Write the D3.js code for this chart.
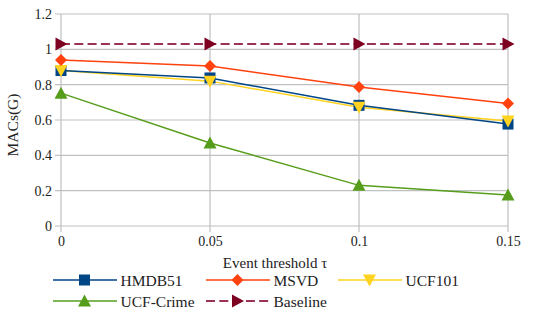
<!DOCTYPE html>
<html><head><meta charset="utf-8">
<script src="https://cdn.jsdelivr.net/npm/d3@7"></script>
<style>body{margin:0;background:#fff}svg{display:block;font-family:"Liberation Serif","DejaVu Serif",serif}</style>
</head><body><svg id="c" width="548" height="313"></svg>
<script>
const xValues = [0, 0.05, 0.1, 0.15];
const xTickLabels = ["0", "0.05", "0.1", "0.15"];
const yTicks = [0, 0.2, 0.4, 0.6, 0.8, 1, 1.2];
const yTickLabels = ["0", "0.2", "0.4", "0.6", "0.8", "1", "1.2"];
const seriesNames = ["HMDB51", "MSVD", "UCF101", "UCF-Crime", "Baseline"];
const hmdb51 = [0.88, 0.838, 0.683, 0.577];
const msvd = [0.94, 0.905, 0.787, 0.693];
const ucf101 = [0.88, 0.82, 0.672, 0.595];
const ucfCrime = [0.752, 0.47, 0.23, 0.175];
const baseline = [1.03, 1.03, 1.03, 1.03];

const series = [
  {name: seriesNames[0], values: hmdb51, color: "#004586", line: "#004586", marker: "square"},
  {name: seriesNames[1], values: msvd, color: "#ff420e", line: "#ff420e", marker: "diamond"},
  {name: seriesNames[2], values: ucf101, color: "#ffd320", line: "#ffd320", marker: "down"},
  {name: seriesNames[3], values: ucfCrime, color: "#579d1c", line: "#579d1c", marker: "up"},
  {name: seriesNames[4], values: baseline, color: "#7e0021", line: "#9a3353", marker: "right", dash: "9,4.3"}
];

const svg = d3.select("#c");
const L = 61, R = 508, T = 14, B = 226;
const x = d3.scaleLinear().domain([0, 0.15]).range([L, R]);
const y = d3.scaleLinear().domain([0, 1.2]).range([B, T]);
const txt = "#222";

// grid
svg.append("g").selectAll("line").data(yTicks).join("line")
  .attr("x1", L - 6).attr("x2", R).attr("y1", d => y(d)).attr("y2", d => y(d))
  .attr("stroke", "#c0c0c0").attr("stroke-width", 1.2);
svg.append("g").selectAll("line").data(xValues).join("line")
  .attr("x1", d => x(d)).attr("x2", d => x(d)).attr("y1", T).attr("y2", B + 6)
  .attr("stroke", "#c0c0c0").attr("stroke-width", 1.2);

// axes labels
const yAxis = d3.axisLeft(y).tickValues(yTicks).tickFormat((d, i) => yTickLabels[i]).tickSize(0).tickPadding(9);
const gy = svg.append("g").attr("transform", `translate(${L},0)`).call(yAxis);
gy.select(".domain").remove();
gy.selectAll("text").attr("font-size", 14).attr("fill", txt).attr("font-family", "Liberation Serif");
const xAxis = d3.axisBottom(x).tickValues(xValues).tickFormat((d, i) => xTickLabels[i]).tickSize(0).tickPadding(10);
const gx = svg.append("g").attr("transform", `translate(0,${B})`).call(xAxis);
gx.select(".domain").remove();
gx.selectAll("text").attr("font-size", 14).attr("fill", txt).attr("font-family", "Liberation Serif");

svg.append("text").attr("x", 275).attr("y", 268).attr("text-anchor", "middle")
  .attr("font-size", 15).attr("fill", txt).text("Event threshold τ");
svg.append("text").attr("transform", `translate(18,125) rotate(-90)`).attr("text-anchor", "middle")
  .attr("font-size", 15.5).attr("fill", txt).text("MACs(G)");

function markerPath(type) {
  const s = 5.5;
  switch (type) {
    case "square": return `M${-s},${-s}H${s}V${s}H${-s}Z`;
    case "diamond": return `M0,${-s - 0.5}L${s + 0.5},0L0,${s + 0.5}L${-s - 0.5},0Z`;
    case "down": return `M${-s - 1},${-s}H${s + 1}L0,${s + 1}Z`;
    case "up": return `M${-s - 1},${s}H${s + 1}L0,${-s - 1}Z`;
    case "right": return `M${-s},${-s - 1}V${s + 1}L${s + 1},0Z`;
  }
}

const line = d3.line().x((d, i) => x(xValues[i])).y(d => y(d));
[4, 3, 2, 0, 1].forEach(k => {
  const s = series[k];
  svg.append("path").attr("d", line(s.values)).attr("fill", "none")
    .attr("stroke", s.line).attr("stroke-width", s.dash ? 2 : 1.5)
    .attr("stroke-dasharray", s.dash || null);
});
[4, 3, 0, 2, 1].forEach(k => {
  const s = series[k];
  svg.append("g").selectAll("path").data(s.values).join("path")
    .attr("transform", (d, i) => `translate(${x(xValues[i])},${y(d)})`)
    .attr("d", markerPath(s.marker)).attr("fill", s.color);
});

// legend
const legPos = [[53, 280], [206, 280], [338, 280], [53, 301], [206, 301]];
series.forEach((s, i) => {
  const [lx, ly] = legPos[i];
  const g = svg.append("g");
  g.append("line").attr("x1", lx).attr("x2", lx + 64).attr("y1", ly).attr("y2", ly)
    .attr("stroke", s.line).attr("stroke-width", s.dash ? 2 : 1.5).attr("stroke-dasharray", s.dash || null);
  g.append("path").attr("transform", `translate(${lx + 31.5},${ly})`).attr("d", markerPath(s.marker)).attr("fill", s.color);
  g.append("text").attr("x", lx + 67.5).attr("y", ly + 5.5).attr("font-size", 15.5).attr("fill", txt).text(s.name);
});
</script></body></html>
